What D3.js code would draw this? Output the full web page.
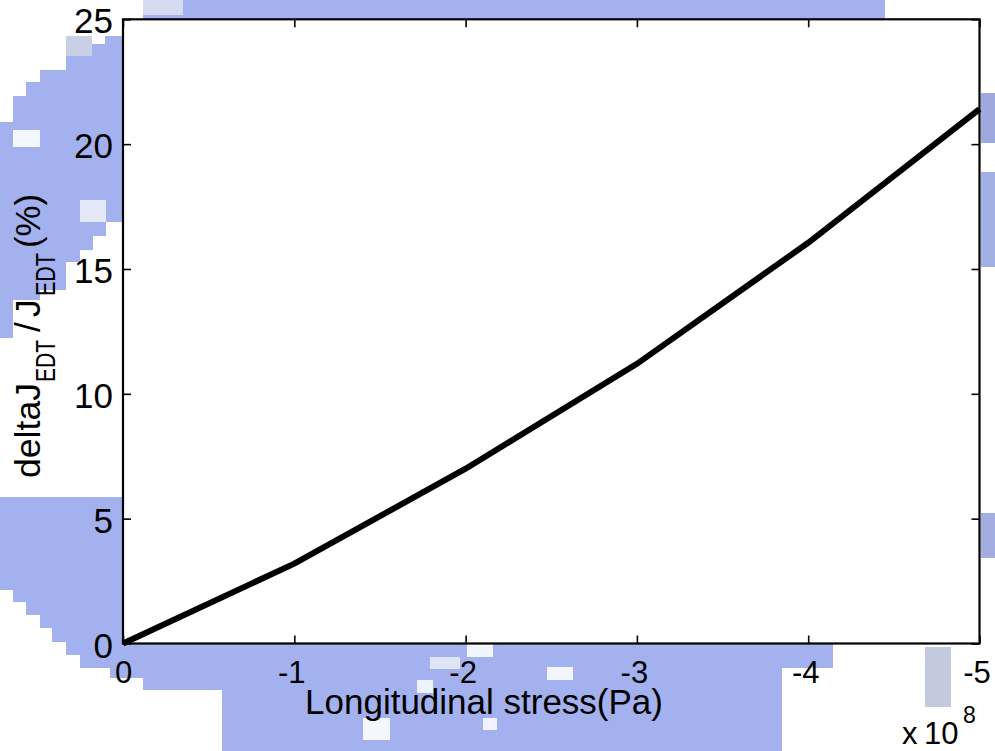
<!DOCTYPE html>
<html>
<head>
  <meta charset="UTF-8">
  <title>deltaJ vs longitudinal stress</title>
  <style>
    body { margin: 0; background: #fff; }
    svg { display: block; }
    text { font-family: "Liberation Sans", Arial, sans-serif; fill: #000; }
  </style>
</head>
<body>
<svg id="chart"></svg>
<script src="https://d3js.org/d3.v7.min.js"></script>
<script>

// data
const stress = [0, -1, -2, -3, -4, -5];          // x 10^8 Pa
const deltaJ = [0, 3.2, 7.0, 11.2, 16.05, 21.4]; // %
const xTicks = [0, -1, -2, -3, -4, -5];
const yTicks = [0, 5, 10, 15, 20, 25];

// blocky blue picture sitting behind the figure
const backdrop = [
  [[143,0],[885,0],[885,19],[143,19]],
  [[123,36],[105,36],[105,44],[92,44],[92,56],[66,56],[66,70],[40,70],[40,82],[26,82],[26,96],[13,96],[13,110],[13,122],[0,122],[0,338],[13,338],[13,300],[40,300],[40,290],[66,290],[66,262],[80,262],[80,250],[93,250],[93,236],[106,236],[106,222],[123,222]],
  [[0,497],[123,497],[123,643],[833,643],[833,668],[782,668],[782,751],[222,751],[222,690],[143,690],[143,678],[110,678],[110,668],[80,668],[80,655],[66,655],[66,642],[52,642],[52,628],[40,628],[40,615],[26,615],[26,602],[13,602],[13,590],[0,590]]
];
const patches = [
  [981,93,14,50,"#9ea9e0"], [981,172,14,95,"#a2b0e6"], [981,513,14,45,"#a3addf"],
  [925,647,26,60,"#c3c9df"], [143,0,40,15,"#d6dcef"],
  [467,643,26,14,"#f3f5fd"], [547,667,26,13,"#f2f5fe"], [417,680,16,13,"#eef2fd"],
  [363,718,27,22,"#f5f7fe"], [483,718,14,12,"#f0f3fd"], [430,657,30,12,"#dfe5f7"],
  [13,130,27,17,"#f4f6fd"], [80,200,26,22,"#e4e9f8"], [66,36,26,20,"#c9cfe6"]
];

const width = 995, height = 751;
const plotL = 123, plotR = 979.5, plotT = 19.3, plotB = 643.5;

let svg = d3.select("#chart")
    .attr("width", width)
    .attr("height", height);

let bg = svg.append("g");
bg.selectAll("path")
    .data(backdrop)
    .enter()
    .append("path")
    .attr("d", d => "M" + d.join("L") + "Z")
    .attr("fill", "#a3b2ee");
bg.selectAll("rect")
    .data(patches)
    .enter()
    .append("rect")
    .attr("x", d => d[0]).attr("y", d => d[1])
    .attr("width", d => d[2]).attr("height", d => d[3])
    .attr("fill", d => d[4]);

let x = d3.scaleLinear().domain([0, -5]).range([plotL, plotR]);
let y = d3.scaleLinear().domain([0, 25]).range([plotB, plotT]);

// plot box
svg.append("rect")
    .attr("x", plotL).attr("y", plotT)
    .attr("width", plotR - plotL).attr("height", plotB - plotT)
    .attr("fill", "#fff");

// curve
let line = d3.line()
    .x((d, i) => x(stress[i]))
    .y(d => y(d));

svg.append("path")
    .datum(deltaJ)
    .attr("d", line)
    .attr("fill", "none")
    .attr("stroke", "#000")
    .attr("stroke-width", 6)
    .attr("stroke-linejoin", "miter");

// axes, ticks pointing inward
let xAxis = svg.append("g")
    .attr("transform", "translate(0," + plotB + ")")
    .call(d3.axisBottom(x).tickValues(xTicks).tickSizeInner(-8).tickSizeOuter(0)
        .tickFormat(d => String(d)));
xAxis.selectAll("text")
    .attr("font-size", 31)
    .attr("dy", 0)
    .attr("y", 39.5)
    .attr("dx", d => d === 0 ? 0 : -3);

let yAxis = svg.append("g")
    .attr("transform", "translate(" + plotL + ",0)")
    .call(d3.axisLeft(y).tickValues(yTicks).tickSizeInner(-8).tickSizeOuter(0));
yAxis.selectAll("text")
    .attr("font-size", 35)
    .attr("x", -10)
    .attr("dy", 0)
    .attr("y", 13.5)
    .attr("text-anchor", "end");

svg.append("g")
    .attr("transform", "translate(0," + plotT + ")")
    .call(d3.axisTop(x).tickValues(xTicks).tickSizeInner(-8).tickSizeOuter(0).tickFormat(""));
svg.append("g")
    .attr("transform", "translate(" + plotR + ",0)")
    .call(d3.axisRight(y).tickValues(yTicks).tickSizeInner(-8).tickSizeOuter(0).tickFormat(""));

svg.selectAll(".domain").remove();
svg.selectAll(".tick line").attr("stroke", "#000").attr("stroke-width", 1.6);

svg.append("rect")
    .attr("x", plotL).attr("y", plotT)
    .attr("width", plotR - plotL).attr("height", plotB - plotT)
    .attr("fill", "none")
    .attr("stroke", "#000")
    .attr("stroke-width", 2.2);

// x label
svg.append("text")
    .attr("x", 484)
    .attr("y", 714)
    .attr("text-anchor", "middle")
    .attr("font-size", 35)
    .text("Longitudinal stress(Pa)");

// exponent
svg.append("text").attr("x", 902).attr("y", 744).attr("font-size", 31).text("x");
svg.append("text").attr("x", 924).attr("y", 744).attr("font-size", 31).text("10");
svg.append("text").attr("x", 963).attr("y", 723).attr("font-size", 23).text("8");

// y label, built from pieces along the rotated baseline
let ylab = svg.append("g").attr("transform", "translate(40,478) rotate(-90)");
const yParts = [
  { t: "deltaJ", x: 0,   dy: 0,  fs: 35, len: 95 },
  { t: "EDT",    x: 96,  dy: 15, fs: 27, len: 42 },
  { t: "/",      x: 146, dy: 0,  fs: 35, len: null },
  { t: "J",      x: 161, dy: 0,  fs: 35, len: null },
  { t: "EDT",    x: 182, dy: 15, fs: 27, len: 43 },
  { t: "(%)",    x: 230, dy: 0,  fs: 35, len: 54 }
];
ylab.selectAll("text")
    .data(yParts)
    .enter()
    .append("text")
    .attr("x", d => d.x)
    .attr("y", d => d.dy)
    .attr("font-size", d => d.fs)
    .attr("textLength", d => d.len)
    .attr("lengthAdjust", d => d.len ? "spacingAndGlyphs" : null)
    .text(d => d.t);

</script>
</body>
</html>
